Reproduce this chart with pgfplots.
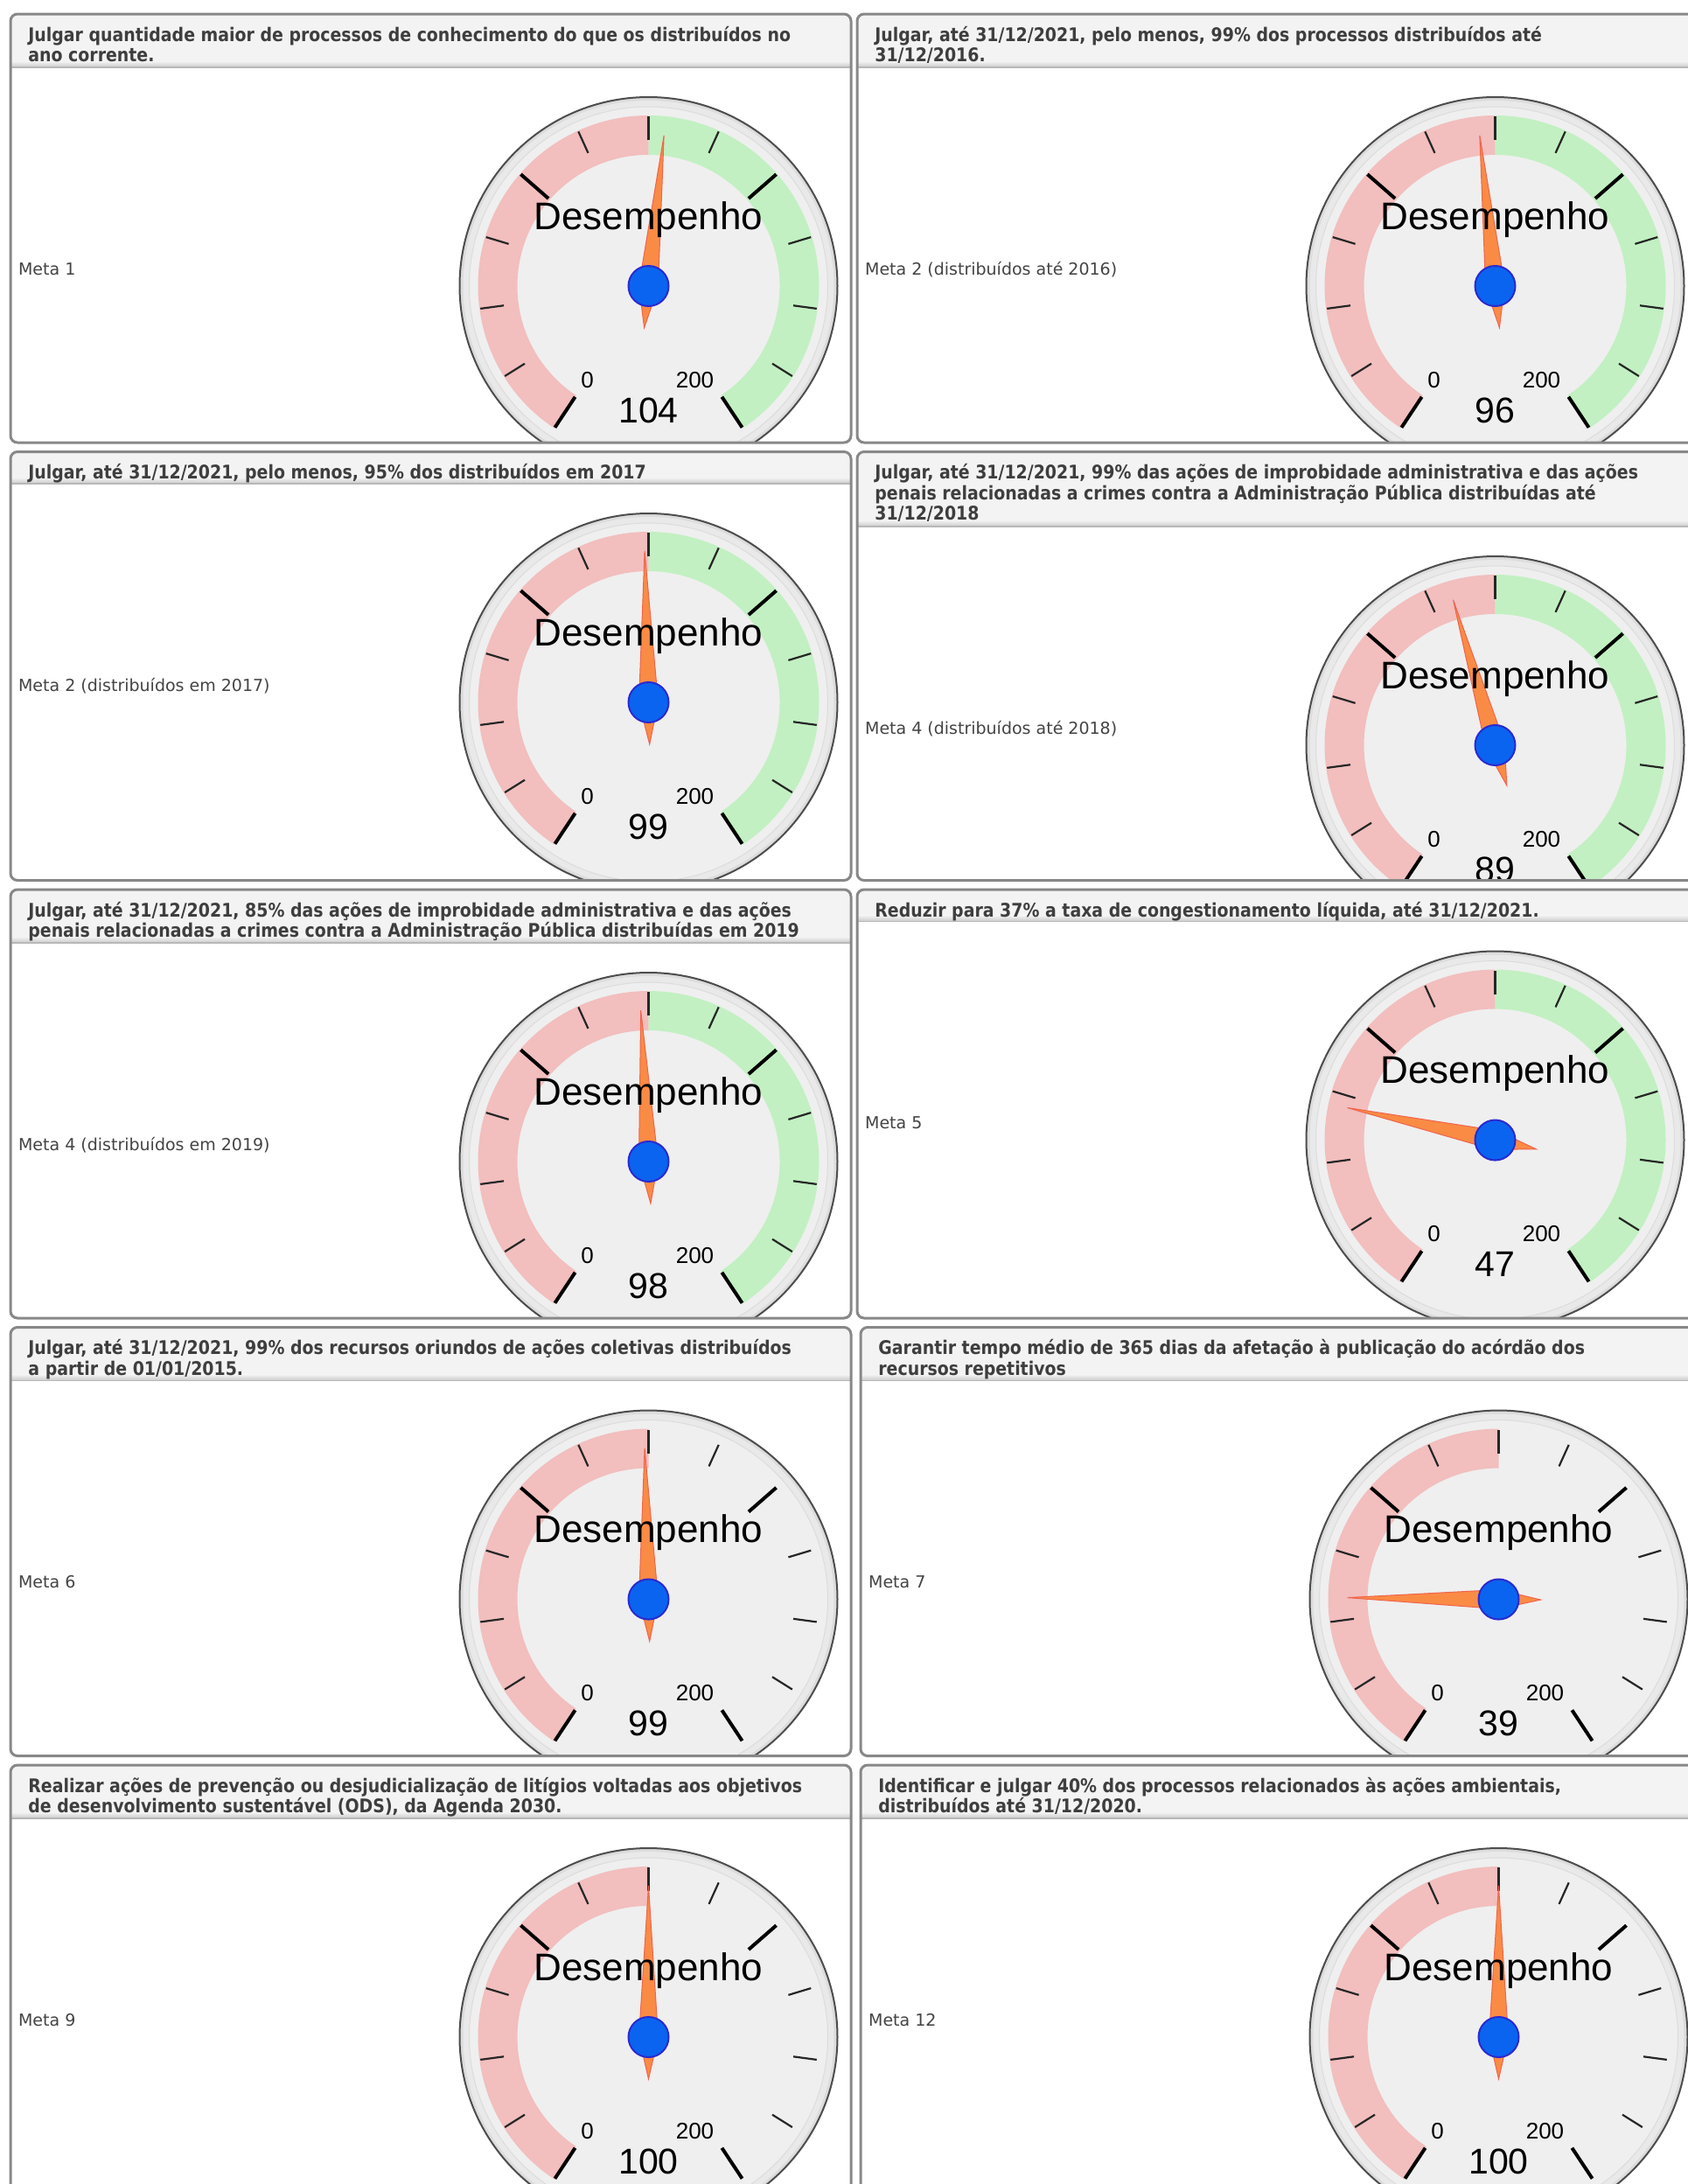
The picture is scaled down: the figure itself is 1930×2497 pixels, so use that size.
\documentclass[border=0pt]{standalone}
\usepackage{fontspec}
\usepackage{pgfplots}
\usepackage{pgfplotstable}
\pgfplotsset{compat=1.18}
\setmainfont{DejaVu Sans}
\newfontfamily\hdrfont[FakeStretch=0.88]{DejaVu Sans}
\newfontfamily\gfont{Liberation Sans}

\definecolor{hdrbg}{HTML}{F3F3F3}
\definecolor{hdrsh}{HTML}{C9C9C9}
\definecolor{hdrline}{HTML}{B8B8B8}
\definecolor{hdrtext}{HTML}{3E3E3E}
\definecolor{lbltext}{HTML}{444444}
\definecolor{frame}{HTML}{888888}
\definecolor{bezel}{HTML}{DCDCDC}
\definecolor{bezelline}{HTML}{4D4D4D}
\definecolor{ring}{HTML}{E9E9E9}
\definecolor{face}{HTML}{EFEFEF}
\definecolor{redband}{HTML}{F2BEBE}
\definecolor{greenband}{HTML}{C2F0C2}
\definecolor{needlefill}{HTML}{FA8B45}
\definecolor{needledraw}{HTML}{F0644C}
\definecolor{hubfill}{HTML}{0A64F0}
\definecolor{hubdraw}{HTML}{2A2ACF}

% gauge values
\pgfplotstableread{
idx value
0 104
1 96
2 99
3 89
4 98
5 47
6 99
7 39
8 100
9 100
}\gaugedata

% needle outline (angle offset, radius in px)
\pgfplotstableread{
d r
0 173
90 11
180 48
270 11
0 173
}\needleshape

\newcommand{\gaugepanel}[9]{%
 \pgfmathsetmacro\hb{#2+12+24.5*#3}%
 \pgfmathsetmacro\cx{#1+729.5}%
 \pgfmathsetmacro\cy{\hb+250}%
 \pgfmathsetmacro\cxp{\cx*0.5}%
 \pgfmathsetmacro\cyp{-\cy*0.5}%
 \pgfplotstablegetelem{#8}{value}\of\gaugedata
 \edef\val{\pgfplotsretval}%
 \pgfmathsetmacro\ang{90-(\val-100)*1.465}%
 \begin{scope}
  \clip[rounded corners=4pt] (#1,#2) rectangle ++(961,490);
  \fill[white] (#1,#2) rectangle ++(961,490);
  \fill[hdrbg] (#1,#2) rectangle (#1+961,\hb);
  \shade[top color=hdrbg,bottom color=hdrsh] (#1,\hb-7) rectangle (#1+961,\hb);
  \draw[hdrline, line width=0.75pt] (#1,\hb) -- (#1+961,\hb);
  \node[anchor=base west, inner sep=0pt, text=hdrtext, font=\hdrfont\bfseries\fontsize{10.75}{12}\selectfont] at (#1+20,#2+31) {#4};
  \node[anchor=base west, inner sep=0pt, text=hdrtext, font=\hdrfont\bfseries\fontsize{10.75}{12}\selectfont] at (#1+20,#2+54.5) {#5};
  \node[anchor=base west, inner sep=0pt, text=hdrtext, font=\hdrfont\bfseries\fontsize{10.75}{12}\selectfont] at (#1+20,#2+78) {#6};
  \node[anchor=mid west, inner sep=0pt, text=lbltext, font=\fontsize{9.5}{11}\selectfont] at (#1+8.7,\cy-18) {#7};
  \begin{scope}[shift={(\cx,\cy)}, x=0.5pt, y=0.5pt]
   \filldraw[fill=bezel, draw=bezelline, line width=1pt] (0,0) circle[radius=216];
   \fill[ring] (0,0) circle[radius=212];
   \filldraw[fill=face, draw=bezel, line width=0.5pt] (0,0) circle[radius=205];
   \fill[redband] (236.5:195) arc[start angle=236.5, end angle=90, radius=195] -- (90:150) arc[start angle=90, end angle=236.5, radius=150] -- cycle;
   \ifnum#9=1
   \fill[greenband] (90:195) arc[start angle=90, end angle=-56.5, radius=195] -- (-56.5:150) arc[start angle=-56.5, end angle=90, radius=150] -- cycle;
   \fi
   \foreach \k in {0,...,12}{%
     \pgfmathsetmacro\t{236.5-\k*24.4167}%
     \pgfmathtruncatemacro\mj{mod(\k,4)==0}%
     \ifnum\mj=1
       \draw[black, line width=2pt] (\t:152) -- (\t:194);
     \else
       \draw[black!85, line width=1.1pt] (\t:167) -- (\t:194);
     \fi
   }
   \node[anchor=base, inner sep=0pt, font=\gfont\fontsize{13}{14}\selectfont] at (-70,-116) {0};
   \node[anchor=base, inner sep=0pt, font=\gfont\fontsize{13}{14}\selectfont] at (53,-116) {200};
  \end{scope}
  \begin{axis}[at={(\cxp pt,\cyp pt)}, anchor=origin, x=0.5pt, y=0.5pt,
     xmin=-100, xmax=100, ymin=-100, ymax=100, hide axis, clip=false]
   \addplot[fill=needlefill, draw=needledraw, line width=0.5pt]
     table[x expr={\thisrow{r}*cos(\ang+\thisrow{d})}, y expr={\thisrow{r}*sin(\ang+\thisrow{d})}] {\needleshape};
   \node[anchor=base, inner sep=0pt, font=\gfont\fontsize{22}{24}\selectfont] at (axis cs:0,65) {Desempenho};
   \filldraw[fill=hubfill, draw=hubdraw, line width=1pt] (axis cs:0,0) circle[radius=23];
   \node[anchor=base, inner sep=0pt, font=\gfont\fontsize{20.5}{22}\selectfont] at (axis cs:0,-156) {\val};
  \end{axis}
 \end{scope}
 \draw[frame, line width=1.5pt, rounded corners=4pt] (#1,#2) rectangle ++(961,490);
}

\begin{document}
\begin{tikzpicture}[x=0.5pt, y=-0.5pt]
\useasboundingbox (0,0) rectangle (1930,2497);
\clip (0,0) rectangle (1930,2497);
\fill[white] (0,0) rectangle (1930,2497);
\gaugepanel{12}{16}{2}{Julgar quantidade maior de processos de conhecimento do que os distribuídos no}{ano corrente.}{}{Meta 1}{0}{1}
\gaugepanel{980}{16}{2}{Julgar, até 31/12/2021, pelo menos, 99\% dos processos distribuídos até}{31/12/2016.}{}{Meta 2 (distribuídos até 2016)}{1}{1}
\gaugepanel{12}{516.5}{1}{Julgar, até 31/12/2021, pelo menos, 95\% dos distribuídos em 2017}{}{}{Meta 2 (distribuídos em 2017)}{2}{1}
\gaugepanel{980}{516.5}{3}{Julgar, até 31/12/2021, 99\% das ações de improbidade administrativa e das ações}{penais relacionadas a crimes contra a Administração Pública distribuídas até}{31/12/2018}{Meta 4 (distribuídos até 2018)}{3}{1}
\gaugepanel{12}{1017}{2}{Julgar, até 31/12/2021, 85\% das ações de improbidade administrativa e das ações}{penais relacionadas a crimes contra a Administração Pública distribuídas em 2019}{}{Meta 4 (distribuídos em 2019)}{4}{1}
\gaugepanel{980}{1017}{1}{Reduzir para 37\% a taxa de congestionamento líquida, até 31/12/2021.}{}{}{Meta 5}{5}{1}
\gaugepanel{12}{1517.5}{2}{Julgar, até 31/12/2021, 99\% dos recursos oriundos de ações coletivas distribuídos}{a partir de 01/01/2015.}{}{Meta 6}{6}{0}
\gaugepanel{984}{1517.5}{2}{Garantir tempo médio de 365 dias da afetação à publicação do acórdão dos}{recursos repetitivos}{}{Meta 7}{7}{0}
\gaugepanel{12}{2018}{2}{Realizar ações de prevenção ou desjudicialização de litígios voltadas aos objetivos}{de desenvolvimento sustentável (ODS), da Agenda 2030.}{}{Meta 9}{8}{0}
\gaugepanel{984}{2018}{2}{Identificar e julgar 40\% dos processos relacionados às ações ambientais,}{distribuídos até 31/12/2020.}{}{Meta 12}{9}{0}
\end{tikzpicture}
\end{document}
